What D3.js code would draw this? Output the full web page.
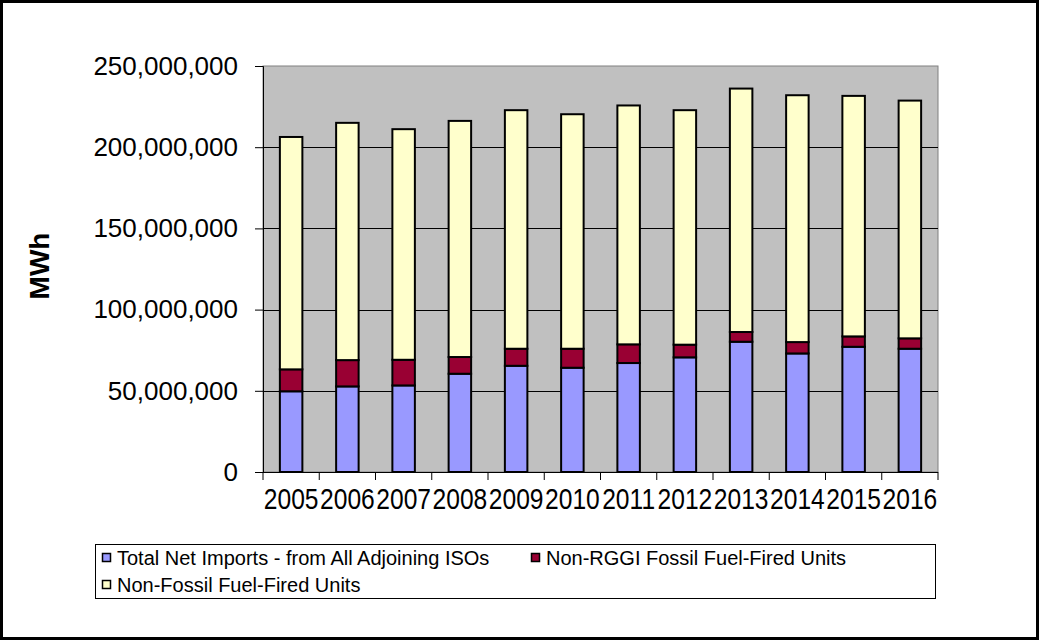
<!DOCTYPE html>
<html>
<head>
<meta charset="utf-8">
<script src="https://cdn.jsdelivr.net/npm/d3@7"></script>
<style>
  body { margin: 0; background: #fff; }
  text { font-family: "Liberation Sans", Arial, sans-serif; }
</style>
</head>
<body>
<div id="chart"></div>
<script>
// Data (MWh)
const years = ["2005", "2006", "2007", "2008", "2009", "2010", "2011", "2012", "2013", "2014", "2015", "2016"];
const netImports = [49700000, 52700000, 53300000, 60500000, 65400000, 64200000, 67100000, 70600000, 80200000, 73000000, 77100000, 75900000];
const nonRggiFossil = [13500000, 16200000, 15800000, 10300000, 10500000, 11700000, 11500000, 7800000, 6000000, 7000000, 6400000, 6400000];
const nonFossil = [143100000, 146100000, 142000000, 145400000, 146900000, 144400000, 147100000, 144400000, 149900000, 152000000, 148100000, 146400000];
const seriesNames = ["Total Net Imports - from All Adjoining ISOs", "Non-RGGI Fossil Fuel-Fired Units", "Non-Fossil Fuel-Fired Units"];
const yTicks = [0, 50000000, 100000000, 150000000, 200000000, 250000000];

const colors = ["#9999FF", "#990033", "#FFFFCC"];
const keys = ["imports", "nonrggi", "nonfossil"];

const W = 1039, H = 640;
const plot = { left: 263, right: 938, top: 66, bottom: 472 };

const table = years.map((yr, i) => ({
    year: yr,
    imports: netImports[i],
    nonrggi: nonRggiFossil[i],
    nonfossil: nonFossil[i]
}));

const svg = d3.select("#chart").append("svg")
    .attr("width", W)
    .attr("height", H);

// outer frame
svg.append("rect")
    .attr("x", 1.5).attr("y", 1.5)
    .attr("width", W - 3).attr("height", H - 3)
    .attr("fill", "#fff")
    .attr("stroke", "#000")
    .attr("stroke-width", 3);

const x = d3.scaleBand()
    .domain(years)
    .range([plot.left, plot.right])
    .paddingInner(0.6)
    .paddingOuter(0.3);

const y = d3.scaleLinear()
    .domain([0, 250000000])
    .range([plot.bottom, plot.top]);

// plot background
svg.append("rect")
    .attr("x", plot.left).attr("y", plot.top)
    .attr("width", plot.right - plot.left)
    .attr("height", plot.bottom - plot.top)
    .attr("fill", "#C0C0C0")
    .attr("stroke", "#808080")
    .attr("stroke-width", 1);

// gridlines
svg.append("g")
    .selectAll("line")
    .data(yTicks.filter(d => d > 0 && d < 250000000))
    .enter().append("line")
    .attr("x1", plot.left).attr("x2", plot.right)
    .attr("y1", d => Math.round(y(d)) + 0.5)
    .attr("y2", d => Math.round(y(d)) + 0.5)
    .attr("stroke", "#000")
    .attr("stroke-width", 1);

// y axis
const yAxis = svg.append("g")
    .attr("transform", `translate(${plot.left},0)`)
    .call(d3.axisLeft(y)
        .tickValues(yTicks)
        .tickSize(8)
        .tickPadding(17)
        .tickFormat(d3.format(",")));
yAxis.select(".domain").attr("stroke", "#000");
yAxis.selectAll("text")
    .attr("font-size", 26)
    .attr("fill", "#000")
    .style("font-family", "'Liberation Sans', Arial, sans-serif");

// stacked bars
const stack = d3.stack().keys(keys);
const layers = stack(table);

svg.append("g")
    .selectAll("g")
    .data(layers)
    .enter().append("g")
    .attr("fill", (d, i) => colors[i])
    .selectAll("rect")
    .data(d => d)
    .enter().append("rect")
    .attr("x", d => x(d.data.year))
    .attr("width", x.bandwidth())
    .attr("y", d => y(d[1]))
    .attr("height", d => y(d[0]) - y(d[1]))
    .attr("stroke", "#000")
    .attr("stroke-width", 2);

// x axis: ticks between categories, labels centred
const gap = (x.step() - x.bandwidth()) / 2;
const xAxis = svg.append("g")
    .attr("transform", `translate(0,${plot.bottom})`);
xAxis.append("line")
    .attr("x1", plot.left).attr("x2", plot.right)
    .attr("y1", 0.5).attr("y2", 0.5)
    .attr("stroke", "#000");
xAxis.selectAll(".sep")
    .data(years.concat(["end"]))
    .enter().append("line")
    .attr("class", "sep")
    .attr("x1", (d, i) => i < years.length ? x(d) - gap : x(years[years.length - 1]) + x.bandwidth() + gap)
    .attr("x2", (d, i) => i < years.length ? x(d) - gap : x(years[years.length - 1]) + x.bandwidth() + gap)
    .attr("y1", 0).attr("y2", 8)
    .attr("stroke", "#000");

const xLabels = svg.append("g")
    .attr("transform", `translate(0,${plot.bottom})`)
    .call(d3.axisBottom(x).tickSize(0).tickPadding(0));
xLabels.select(".domain").remove();
xLabels.selectAll("text")
    .attr("y", 37)
    .attr("dy", 0)
    .attr("font-size", 30)
    .attr("fill", "#000")
    .attr("transform", "scale(0.82,1)")
    .style("font-family", "'Liberation Sans', Arial, sans-serif");

// y axis title
svg.append("text")
    .attr("transform", "translate(49,266) rotate(-90)")
    .attr("text-anchor", "middle")
    .attr("font-size", 28)
    .attr("font-weight", "bold")
    .text("MWh");

// legend
const legend = svg.append("g");
legend.append("rect")
    .attr("x", 95.5).attr("y", 544.5)
    .attr("width", 840).attr("height", 54)
    .attr("fill", "#fff")
    .attr("stroke", "#000")
    .attr("stroke-width", 1);

const legendPos = [[102, 558], [531, 558], [102, 585]];
const items = legend.selectAll(".legend-item")
    .data(seriesNames)
    .enter().append("g")
    .attr("class", "legend-item")
    .attr("transform", (d, i) => `translate(${legendPos[i][0]},${legendPos[i][1]})`);

items.append("rect")
    .attr("x", 0.5).attr("y", -4.5)
    .attr("width", 8).attr("height", 8)
    .attr("fill", (d, i) => colors[i])
    .attr("stroke", "#000")
    .attr("stroke-width", 1.5);

items.append("text")
    .attr("x", 15)
    .attr("y", 0)
    .attr("dy", "0.35em")
    .attr("font-size", 20)
    .attr("fill", "#000")
    .text(d => d);
</script>
</body>
</html>
